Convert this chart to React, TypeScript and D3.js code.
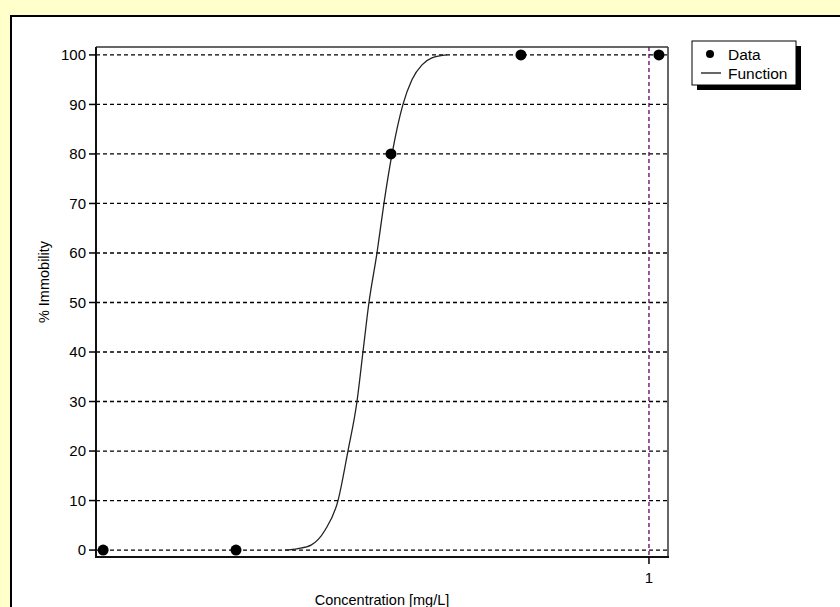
import React from 'react';
import * as d3 from 'd3';

// Observed data
const concentrations = [0.1436, 0.2303, 0.3996, 0.6343, 1.036];
const immobility = [0, 0, 80, 100, 100];

// Fitted function
const fitConc = [0.2741, 0.2871, 0.3007, 0.316, 0.331, 0.3429, 0.3541, 0.3617, 0.3695, 0.3802, 0.3897, 0.4011, 0.417, 0.4305, 0.4462, 0.4623, 0.4877];
const fitPct = [0, 0.3, 1, 4, 10, 20, 30, 40, 50, 60, 70, 80, 90, 95, 98, 99.4, 100];

const yTicks = [0, 10, 20, 30, 40, 50, 60, 70, 80, 90, 100];
const xTicks = [1];
const xTickLabels = ['1'];
const refLineX = [1];
const xDomain = [0.14, 1.07];
const yDomain = [-1.4, 101.6];
const legendLabels = ['Data', 'Function'];
const xTitle = 'Concentration [mg/L]';
const yTitle = '% Immobility';

const W = 840;
const H = 607;
const plot = { left: 96, right: 668, top: 47, bottom: 557 };
const FONT = '"Liberation Sans", Arial, sans-serif';

export default function App() {
  const x = d3.scaleLog().domain(xDomain).range([plot.left, plot.right]);
  const y = d3.scaleLinear().domain(yDomain).range([plot.bottom, plot.top]);

  const fitData = fitConc.map((c, i) => [c, fitPct[i]] as [number, number]);
  const line = d3
    .line<[number, number]>()
    .x((d) => x(d[0]))
    .y((d) => y(d[1]))
    .curve(d3.curveMonotoneX);

  const circle = d3.symbol().type(d3.symbolCircle).size(Math.PI * 5.5 * 5.5);

  const legX = 692;
  const legY = 41;
  const legW = 104;
  const legH = 44;

  return (
    <svg
      width={W}
      height={H}
      style={{ position: 'fixed', left: 0, top: 0, display: 'block' }}
      fontFamily={FONT}
    >
      <rect x={0} y={0} width={W} height={H} fill="#FFFFCC" />
      <rect x={11} y={16} width={W + 50} height={H + 50} fill="#FFFFFF" stroke="#000" strokeWidth={2} />

      {/* horizontal dashed grid */}
      {yTicks.map((t) => (
        <line
          key={'g' + t}
          x1={plot.left}
          x2={plot.right}
          y1={y(t)}
          y2={y(t)}
          stroke="#000"
          strokeWidth={1.3}
          strokeDasharray="4,3"
        />
      ))}

      {/* vertical reference line */}
      {refLineX.map((v) => (
        <line
          key={'r' + v}
          x1={x(v)}
          x2={x(v)}
          y1={plot.top}
          y2={plot.bottom}
          stroke="#660066"
          strokeWidth={1.3}
          strokeDasharray="4,3"
        />
      ))}

      {/* frame */}
      <line x1={plot.left} x2={plot.right} y1={plot.top} y2={plot.top} stroke="#333" strokeWidth={1.5} />
      <line x1={plot.right} x2={plot.right} y1={plot.top} y2={plot.bottom} stroke="#333" strokeWidth={1.5} />
      <line x1={plot.left} x2={plot.left} y1={plot.top} y2={plot.bottom + 1} stroke="#111" strokeWidth={2} />
      <line x1={plot.left - 1} x2={plot.right + 1} y1={plot.bottom} y2={plot.bottom} stroke="#111" strokeWidth={2} />

      {/* y ticks */}
      {yTicks.map((t) => (
        <g key={'yt' + t}>
          <line x1={plot.left - 7} x2={plot.left} y1={y(t)} y2={y(t)} stroke="#000" strokeWidth={1.5} />
          <text x={plot.left - 10} y={y(t)} dy="0.36em" textAnchor="end" fontSize={15} fill="#000">
            {t}
          </text>
        </g>
      ))}

      {/* x ticks */}
      {xTicks.map((t, i) => (
        <g key={'xt' + t}>
          <line x1={x(t)} x2={x(t)} y1={plot.bottom} y2={plot.bottom + 7} stroke="#000" strokeWidth={1.5} />
          <text x={x(t)} y={plot.bottom + 26} textAnchor="middle" fontSize={15} fill="#000">
            {xTickLabels[i]}
          </text>
        </g>
      ))}

      {/* axis titles */}
      <text x={(plot.left + plot.right) / 2} y={605} textAnchor="middle" fontSize={14.5} fill="#000">
        {xTitle}
      </text>
      <text
        transform={`translate(49, ${(plot.top + plot.bottom) / 2 - 20}) rotate(-90)`}
        textAnchor="middle"
        fontSize={14.5}
        fill="#000"
      >
        {yTitle}
      </text>

      {/* fitted function */}
      <path d={line(fitData) || ''} fill="none" stroke="#222" strokeWidth={1.3} />

      {/* data points */}
      {concentrations.map((c, i) => (
        <path key={'p' + i} d={circle() || ''} transform={`translate(${x(c)},${y(immobility[i])})`} fill="#000" />
      ))}

      {/* legend */}
      <rect x={legX + 5} y={legY + 5} width={legW} height={legH} fill="#000" />
      <rect x={legX} y={legY} width={legW} height={legH} fill="#fff" stroke="#000" strokeWidth={1} />
      <path d={d3.symbol().type(d3.symbolCircle).size(Math.PI * 4 * 4)() || ''} transform={`translate(${legX + 18},${legY + 13})`} fill="#000" />
      <text x={legX + 36} y={legY + 13} dy="0.36em" fontSize={15.5} fill="#000">
        {legendLabels[0]}
      </text>
      <line x1={legX + 9} x2={legX + 29} y1={legY + 32} y2={legY + 32} stroke="#000" strokeWidth={1.2} />
      <text x={legX + 36} y={legY + 32} dy="0.36em" fontSize={15.5} fill="#000">
        {legendLabels[1]}
      </text>
    </svg>
  );
}
